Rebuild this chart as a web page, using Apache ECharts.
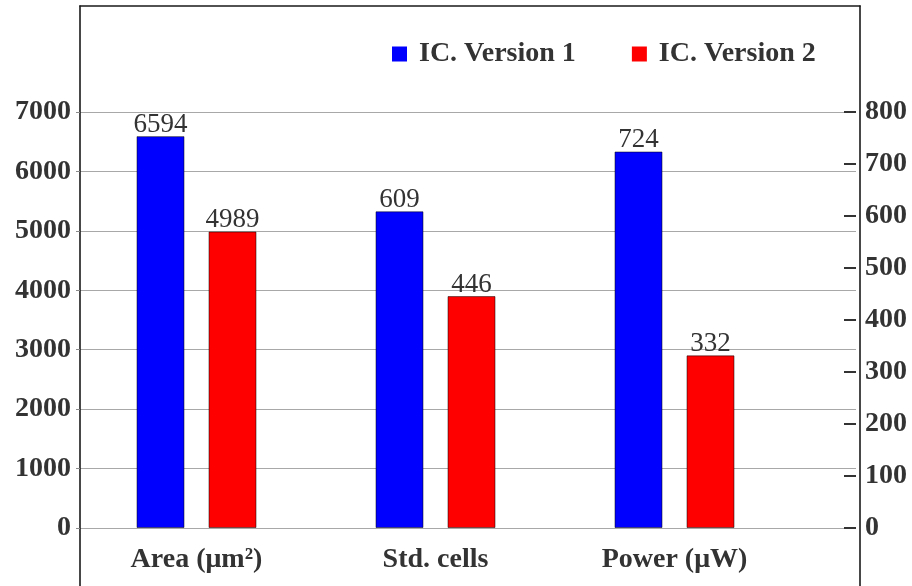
<!DOCTYPE html>
<html>
<head>
<meta charset="utf-8">
<script src="https://cdn.jsdelivr.net/npm/echarts@6/dist/echarts.min.js"></script>
<style>
  html, body { margin: 0; padding: 0; background: #fff; }
  #chart { width: 912px; height: 586px; }
</style>
</head>
<body>
<div id="chart"></div>
<script>
// Categories and measured values for the two IC versions
const categories = ['Area (μm²)', 'Std. cells', 'Power (μW)'];
const seriesNames = ['IC. Version 1', 'IC. Version 2'];
const version1 = [6594, 609, 724];
const version2 = [4989, 446, 332];
// Categories read against the left axis; the rest use the right axis
const leftAxisCategories = ['Area (μm²)'];
// Tick labels of both value axes
const leftTicks = [0, 1000, 2000, 3000, 4000, 5000, 6000, 7000];
const rightTicks = [0, 100, 200, 300, 400, 500, 600, 700, 800];

const FONT = 'Liberation Serif';
const TEXT = '#333';
const BLUE = '#0000ff';
const RED = '#ff0000';
const FRAME = { show: true, onZero: false, lineStyle: { color: '#1a1a1a', width: 1.6 } };

const onLeft = c => leftAxisCategories.includes(c);
const pick = (values, left) => categories.map((c, i) => (onLeft(c) === left ? values[i] : '-'));

const leftMax = leftTicks[leftTicks.length - 1];
const leftStep = leftTicks[1] - leftTicks[0];
const rightMax = rightTicks[rightTicks.length - 1];
const rightStep = rightTicks[1] - rightTicks[0];

const valueLabel = {
  show: true,
  position: 'top',
  distance: -2,
  fontFamily: FONT,
  fontSize: 27,
  color: TEXT
};

function barSeries(name, color, data, axisIdx) {
  return {
    name: name,
    type: 'bar',
    xAxisIndex: axisIdx,
    yAxisIndex: axisIdx,
    data: data,
    barWidth: 48,
    barGap: '50%',
    itemStyle: { color: color, borderColor: 'rgba(0,0,0,0.5)', borderWidth: 1 },
    label: valueLabel,
    emphasis: { disabled: true }
  };
}

// Axis that only draws one side of the outer frame
function frameAxis(position) {
  return {
    type: 'value', gridIndex: 2, position: position, min: 0, max: 1,
    axisLine: FRAME, axisTick: { show: false }, axisLabel: { show: false }, splitLine: { show: false }
  };
}

const boldText = { fontFamily: FONT, fontWeight: 'bold', fontSize: 28, color: TEXT };

const chart = echarts.init(document.getElementById('chart'), null, { renderer: 'canvas' });

chart.setOption({
  animation: false,
  backgroundColor: '#fff',
  legend: {
    left: 392,
    top: 40,
    padding: 0,
    icon: 'rect',
    itemWidth: 15,
    itemHeight: 15,
    itemGap: 56,
    data: seriesNames,
    itemStyle: { borderWidth: 0 },
    textStyle: Object.assign({}, boldText, { padding: [0, 0, 0, 7] })
  },
  grid: [
    // bars and category labels
    { left: 77, right: 118, top: 112, bottom: 58 },
    // gridlines and value axes
    { left: 80, right: 56, top: 112, bottom: 58 },
    // outer frame, open at the bottom
    { left: 80, right: 52, top: 6, bottom: 0 }
  ],
  xAxis: [
    {
      type: 'category', gridIndex: 0, data: categories,
      axisLine: { show: false }, axisTick: { show: false },
      axisLabel: Object.assign({}, boldText, { margin: 18 })
    },
    { type: 'category', gridIndex: 0, data: categories, show: false },
    { type: 'value', gridIndex: 1, show: false },
    frameAxis('top')
  ],
  yAxis: [
    { type: 'value', gridIndex: 0, min: 0, max: leftMax, interval: leftStep, show: false },
    { type: 'value', gridIndex: 0, min: 0, max: rightMax, interval: rightStep, show: false },
    {
      type: 'value', gridIndex: 1, position: 'left', min: 0, max: leftMax, interval: leftStep,
      axisLine: { show: false },
      axisTick: { show: true, length: 4, lineStyle: { color: '#8a8a8a' } },
      splitLine: { show: true, lineStyle: { color: '#a8a8a8', width: 1.2 } },
      axisLabel: Object.assign({}, boldText, { margin: 9, formatter: v => String(v) })
    },
    {
      type: 'value', gridIndex: 1, position: 'right', min: 0, max: rightMax, interval: rightStep,
      axisLine: { show: false },
      axisTick: { show: true, inside: true, length: 12, lineStyle: { color: '#333', width: 2 } },
      splitLine: { show: false },
      axisLabel: Object.assign({}, boldText, { margin: 9, formatter: v => String(v) })
    },
    frameAxis('left'),
    frameAxis('right')
  ],
  series: [
    barSeries(seriesNames[0], BLUE, pick(version1, true), 0),
    barSeries(seriesNames[1], RED, pick(version2, true), 0),
    barSeries(seriesNames[0], BLUE, pick(version1, false), 1),
    barSeries(seriesNames[1], RED, pick(version2, false), 1)
  ]
});
</script>
</body>
</html>
